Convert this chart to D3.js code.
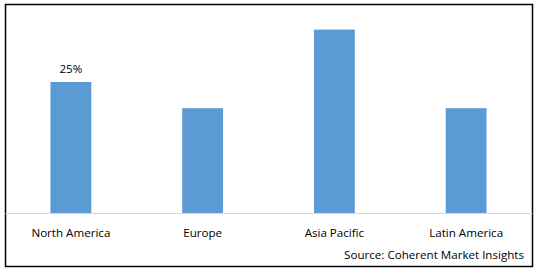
<!DOCTYPE html>
<html>
<head>
<meta charset="utf-8">
<script src="https://cdn.jsdelivr.net/npm/d3@7"></script>
<style>
  body { margin: 0; background: #fff; }
  text { font-family: "Open Sans", sans-serif; fill: #000; }
</style>
</head>
<body>
<div id="chart"></div>
<script>
const W = 538, H = 272;
const regions = ["North America", "Europe", "Asia Pacific", "Latin America"];
const shares = [25, 20, 35, 20];
const labelled = ["North America"]; // only this bar carries a value label
const source = "Source: Coherent Market Insights";

const frame = { left: 5, right: 532, top: 4, bottom: 266 };
const baseY = 213;
const FONT = "11.6px";

const svg = d3.select("#chart").append("svg")
  .attr("width", W)
  .attr("height", H);

// outer box
svg.append("rect")
  .attr("x", frame.left + 0.5)
  .attr("y", frame.top + 0.5)
  .attr("width", frame.right - frame.left)
  .attr("height", frame.bottom - frame.top)
  .attr("fill", "none")
  .attr("stroke", "#000")
  .attr("stroke-width", 1.5);

const x = d3.scaleBand()
  .domain(regions)
  .range([frame.left, frame.right])
  .paddingInner(0.69)
  .paddingOuter(0.345);

const y = d3.scaleLinear()
  .domain([0, 40])
  .range([baseY, baseY - 40 * 5.24]);

svg.selectAll("rect.bar")
  .data(regions)
  .enter()
  .append("rect")
  .attr("class", "bar")
  .attr("x", (d) => x(d))
  .attr("width", x.bandwidth())
  .attr("y", (d, i) => y(shares[i]))
  .attr("height", (d, i) => baseY - y(shares[i]))
  .attr("fill", "#5B9BD5");

// x axis line + category labels
const xAxis = d3.axisBottom(x).tickSize(0).tickPadding(16);
const gx = svg.append("g")
  .attr("transform", "translate(0," + baseY + ")")
  .call(xAxis);
gx.select(".domain").attr("stroke", "#d9d9d9").attr("stroke-width", 1);
gx.selectAll("text")
  .style("font-family", "'Open Sans', sans-serif")
  .style("font-size", FONT)
  .attr("fill", "#000");

svg.selectAll("text.val")
  .data(regions.filter((d) => labelled.includes(d)))
  .enter()
  .append("text")
  .attr("class", "val")
  .attr("x", (d) => x(d) + x.bandwidth() / 2)
  .attr("y", (d) => y(shares[regions.indexOf(d)]) - 9)
  .attr("text-anchor", "middle")
  .style("font-size", FONT)
  .text((d) => shares[regions.indexOf(d)] + "%");

svg.append("text")
  .attr("x", 524)
  .attr("y", 259)
  .attr("text-anchor", "end")
  .style("font-size", FONT)
  .text(source);
</script>
</body>
</html>
